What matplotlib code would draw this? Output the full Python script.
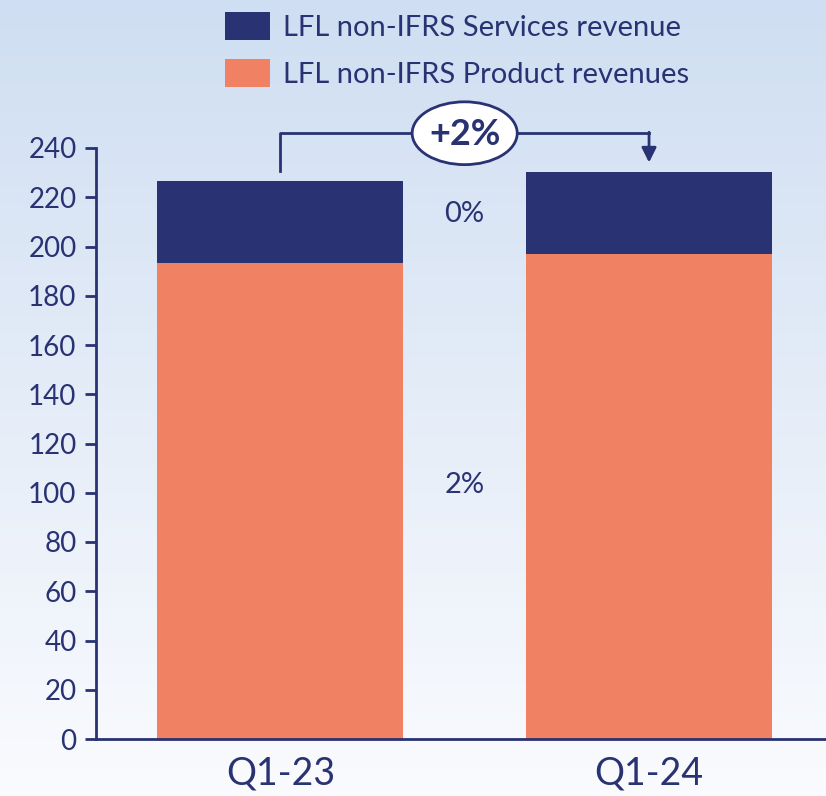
import numpy as np
import matplotlib.pyplot as plt
from matplotlib.patches import Ellipse

# Data
quarters = ["Q1-23", "Q1-24"]
product = [193.4, 196.8]
services = [33.1, 33.3]
yticks = [0, 20, 40, 60, 80, 100, 120, 140, 160, 180, 200, 220, 240]
growth_total = "+2%"
growth_services = "0%"
growth_product = "2%"

navy = "#293272"
coral = "#F08162"

plt.rcParams['font.family'] = ['Lato', 'DejaVu Sans']

fig = plt.figure(figsize=(8.26, 7.96), dpi=100)

# gradient background
bg = fig.add_axes([0, 0, 1, 1], zorder=-1)
grad = np.linspace(0, 1, 256).reshape(-1, 1)
top = np.array([207, 222, 242]) / 255
bottom = np.array([250, 251, 254]) / 255
img = top + (bottom - top) * grad[:, :, None]
bg.imshow(img, aspect='auto', extent=[0, 1, 0, 1])
bg.axis('off')

ax = fig.add_axes([96 / 826, 1 - 739 / 796, 1 - 96 / 826, (739 - 148) / 796])
ax.patch.set_alpha(0)

x = np.arange(len(quarters))
bars_p = ax.bar(x, product, width=0.667, color=coral, label="LFL non-IFRS Product revenues", zorder=2)
bars_s = ax.bar(x, services, width=0.667, bottom=product, color=navy,
                label="LFL non-IFRS Services revenue", zorder=2)

ax.set_xlim(-0.5, 1.48)
ax.set_ylim(0, 240)
ax.set_yticks(yticks)
ax.set_xticks(x)
ax.set_xticklabels(quarters)

for s in ["top", "right"]:
    ax.spines[s].set_visible(False)
for s in ["left", "bottom"]:
    ax.spines[s].set_color(navy)
    ax.spines[s].set_linewidth(2)
ax.tick_params(axis='y', colors=navy, labelsize=20, length=8, width=2, pad=6)
ax.tick_params(axis='x', colors=navy, labelsize=27, length=0, pad=12)

# growth labels
ax.text(0.5, 213, growth_services, color=navy, fontsize=21, ha='center', va='center')
ax.text(0.5, 103, growth_product, color=navy, fontsize=21, ha='center', va='center')

# bracket with arrow
tot = [p + s for p, s in zip(product, services)]
yb = 246
ax.plot([0, 0, 1], [tot[0] + 4, yb, yb], color=navy, lw=2, clip_on=False, zorder=3)
ax.annotate("", xy=(1, tot[1] + 4), xytext=(1, yb + 0.4),
            arrowprops=dict(arrowstyle='-|>', color=navy, lw=2, mutation_scale=22,
                            shrinkA=0, shrinkB=0),
            annotation_clip=False, zorder=3)
ell = Ellipse((0.5, yb), 0.285, 25.5, facecolor='white', edgecolor=navy, lw=2,
              clip_on=False, zorder=4)
ax.add_patch(ell)
ax.text(0.5, yb - 0.5, growth_total, color=navy, fontsize=26, fontweight='bold',
        ha='center', va='center', zorder=5)

# legend
ax.legend(handles=[bars_s, bars_p], loc='upper left', bbox_to_anchor=(225 / 826, 1 - 12 / 796),
          bbox_transform=fig.transFigure, frameon=False, fontsize=21, labelcolor=navy,
          handlelength=1.54, handleheight=1.1, handletextpad=0.45, labelspacing=0.63,
          borderpad=0, borderaxespad=0)

fig.savefig("out.png", dpi=100)
